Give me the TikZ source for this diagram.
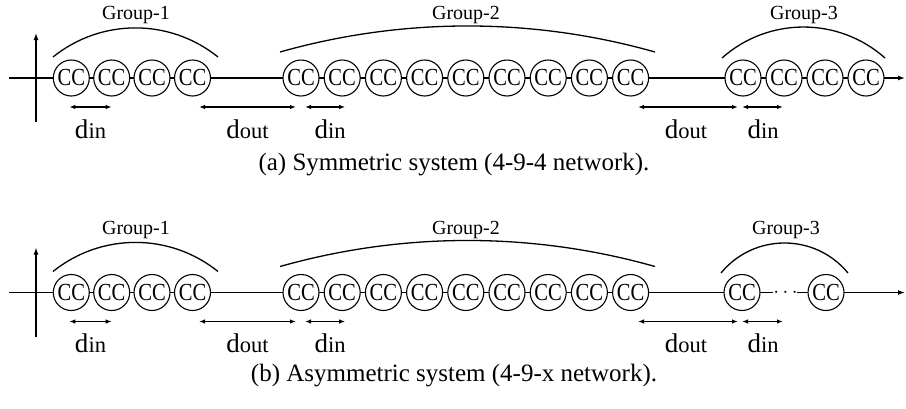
\documentclass[tikz,border=0pt]{standalone}
\usepackage{fontspec}
\setmainfont{Liberation Serif}
\newfontfamily\ccfont[FakeStretch=0.84]{Liberation Serif}
\usetikzlibrary{arrows.meta}
\tikzset{
  cc/.style={circle, draw, line width=1.1pt, fill=white, minimum size=36pt, inner sep=0pt, font=\ccfont\fontsize{24.5}{24.5}\selectfont},
  mainline/.style={line width=1.3pt},
  mainarrow/.style={line width=1.3pt, -{Latex[length=7pt,width=5pt]}},
  dim/.style={line width=1.3pt, {Latex[length=6pt,width=4.5pt]}-{Latex[length=6pt,width=4.5pt]}},
  grouparc/.style={line width=1.3pt},
  grouplabel/.style={anchor=base, font=\fontsize{20}{20}\selectfont, inner sep=0pt},
  dlabel/.style={anchor=base, inner sep=0pt},
  captionlabel/.style={anchor=base, font=\fontsize{25}{25}\selectfont, inner sep=0pt},
  dotslabel/.style={anchor=base, inner sep=0pt, font=\fontsize{21}{21}\selectfont},
}
\newcommand{\dsub}[1]{{\fontsize{27}{27}\selectfont d}{\fontsize{22.5}{22.5}\selectfont #1}}
\begin{document}
\begin{tikzpicture}[x=1pt,y=-1pt]
\useasboundingbox (0,0) rectangle (906,408);

%%%%%%%%%%%% (a) top panel %%%%%%%%%%%%
\coordinate (ta) at (9,78);
\coordinate (tb) at (905,78);
\coordinate (tv1) at (36,122);
\coordinate (tv2) at (36,33);
\draw[mainarrow] (ta) -- (tb);
\draw[mainarrow] (tv1) -- (tv2);

\foreach \i/\x in {1/71.3,2/111.7,3/152,4/192.5}
  \node[cc] (a\i) at (\x,78) {CC};
\foreach \i in {1,...,9}
  \node[cc] (b\i) at ({301+41.2*(\i-1)},78) {CC};
\foreach \i in {1,...,4}
  \node[cc] (c\i) at ({743+41*(\i-1)},78) {CC};

\draw[grouparc] (53,57) .. controls (101.2,18.2) and (169.8,18.2) .. (218,57);
\draw[grouparc] (280,52) .. controls (402.7,17.3) and (532.3,17.3) .. (655,52);
\draw[grouparc] (722,58) .. controls (768.4,16.7) and (838.6,16.7) .. (885,58);
\node[grouplabel] (ga1) at (136,19.5) {Group-1};
\node[grouplabel] (ga2) at (466,19.5) {Group-2};
\node[grouplabel] (ga3) at (804,19.5) {Group-3};

\draw[dim] ([xshift=-2pt,yshift=-29pt]a1.center) -- ([yshift=-29pt]a2.center);
\draw[dim] ([xshift=6.5pt,yshift=-29pt]a4.center) -- ([xshift=-5pt,yshift=-29pt]b1.center);
\draw[dim] ([xshift=4pt,yshift=-29pt]b1.center) -- ([xshift=3pt,yshift=-29pt]b2.center);
\draw[dim] ([xshift=7.4pt,yshift=-29pt]b9.center) -- ([xshift=-5pt,yshift=-29pt]c1.center);
\draw[dim] ([xshift=-1pt,yshift=-29pt]c1.center) -- ([xshift=-1pt,yshift=-29pt]c2.center);

\node[dlabel] (la1) at (90.5,138) {\dsub{in}};
\node[dlabel] (la2) at (247.5,138) {\dsub{out}};
\node[dlabel] (la3) at (330,138) {\dsub{in}};
\node[dlabel] (la4) at (686,138) {\dsub{out}};
\node[dlabel] (la5) at (763,138) {\dsub{in}};

\node[captionlabel] (capa) at (454,170.5) {(a) Symmetric system (4-9-4 network).};

%%%%%%%%%%%% (b) bottom panel %%%%%%%%%%%%
\coordinate (ba) at (9,292.5);
\coordinate (bb) at (905,292.5);
\coordinate (bv1) at (36,336.5);
\coordinate (bv2) at (36,247.5);
\draw[mainarrow] (bv1) -- (bv2);

\foreach \i/\x in {1/71.3,2/111.7,3/152,4/192.5}
  \node[cc, draw=none, fill=none] (d\i) at (\x,292.5) {};
\foreach \i in {1,...,9}
  \node[cc, draw=none, fill=none] (e\i) at ({301+41.2*(\i-1)},292.5) {};
\node[cc, draw=none, fill=none] (f1) at (742,292.5) {};
\node[cc, draw=none, fill=none] (f2) at (826,292.5) {};

\draw[mainline] (ba) -- ([xshift=12pt]f1.east);
\draw[mainarrow] ([xshift=-10pt]f2.west) -- (bb);
\node[dotslabel] (dots) at (785.5,297.8) {$\cdots$};

\foreach \i/\x in {1/71.3,2/111.7,3/152,4/192.5}
  \node[cc] (dd\i) at (\x,292.5) {CC};
\foreach \i in {1,...,9}
  \node[cc] (ee\i) at ({301+41.2*(\i-1)},292.5) {CC};
\node[cc] (ff1) at (742,292.5) {CC};
\node[cc] (ff2) at (826,292.5) {CC};

\draw[grouparc] (53,271.5) .. controls (101.2,232.7) and (169.8,232.7) .. (218,271.5);
\draw[grouparc] (280,266.5) .. controls (402.7,231.8) and (532.3,231.8) .. (655,266.5);
\draw[grouparc] (721,273) .. controls (753.9,233) and (815.1,233) .. (848,273);
\node[grouplabel] (gb1) at (136,234) {Group-1};
\node[grouplabel] (gb2) at (466,234) {Group-2};
\node[grouplabel] (gb3) at (786,234) {Group-3};

\draw[dim] ([xshift=-2pt,yshift=-29pt]dd1.center) -- ([yshift=-29pt]dd2.center);
\draw[dim] ([xshift=6.5pt,yshift=-29pt]dd4.center) -- ([xshift=-5pt,yshift=-29pt]ee1.center);
\draw[dim] ([xshift=4pt,yshift=-29pt]ee1.center) -- ([xshift=3pt,yshift=-29pt]ee2.center);
\draw[dim] ([xshift=7.4pt,yshift=-29pt]ee9.center) -- ([xshift=-4pt,yshift=-29pt]ff1.center);
\draw[dim] ([xshift=0pt,yshift=-29pt]ff1.center) -- ([xshift=41pt,yshift=-29pt]ff1.center);

\node[dlabel] (lb1) at (90.5,352.5) {\dsub{in}};
\node[dlabel] (lb2) at (247.5,352.5) {\dsub{out}};
\node[dlabel] (lb3) at (330,352.5) {\dsub{in}};
\node[dlabel] (lb4) at (686,352.5) {\dsub{out}};
\node[dlabel] (lb5) at (763,352.5) {\dsub{in}};

\node[captionlabel] (capb) at (454,381) {(b) Asymmetric system (4-9-x network).};
\end{tikzpicture}
\end{document}
